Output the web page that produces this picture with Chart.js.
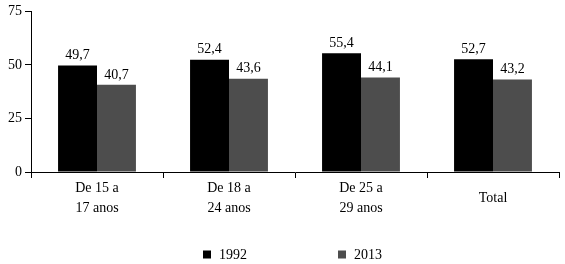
<!DOCTYPE html>
<html>
<head>
<meta charset="utf-8">
<script src="https://cdn.jsdelivr.net/npm/chart.js@4/dist/chart.umd.min.js"></script>
<style>
html,body{margin:0;padding:0;background:#fff;}
#wrap{width:565px;height:264px;position:relative;}
</style>
</head>
<body>
<div id="wrap"><canvas id="c" width="565" height="264"></canvas></div>
<script>
const categories = [["De 15 a","17 anos"],["De 18 a","24 anos"],["De 25 a","29 anos"],"Total"];
const series1992 = [49.7, 52.4, 55.4, 52.7];
const series2013 = [40.7, 43.6, 44.1, 43.2];
const seriesNames = ["1992", "2013"];
const yTicks = [0, 25, 50, 75];

const FONT = "'Liberation Serif', 'DejaVu Serif', serif";

const valueLabels = {
  id: 'valueLabels',
  afterDatasetsDraw(chart) {
    const ctx = chart.ctx;
    ctx.save();
    ctx.font = "14px " + FONT;
    ctx.fillStyle = "#000";
    ctx.textAlign = "center";
    ctx.textBaseline = "bottom";
    chart.data.datasets.forEach((ds, di) => {
      const meta = chart.getDatasetMeta(di);
      meta.data.forEach((bar, i) => {
        ctx.fillText(ds.data[i].toFixed(1).replace('.', ','), bar.x, bar.y - 3);
      });
    });
    ctx.restore();
  }
};

const customLegend = {
  id: 'customLegend',
  afterDraw(chart) {
    const ctx = chart.ctx;
    ctx.save();
    ctx.font = "14px " + FONT;
    ctx.textBaseline = "middle";
    ctx.textAlign = "left";
    const ds = chart.data.datasets;
    const box = 8, gapText = 8, gapItem = 91;
    const widths = ds.map(d => box + gapText + ctx.measureText(d.label).width);
    const total = widths.reduce((a, b) => a + b, 0) + gapItem * (ds.length - 1);
    const ca = chart.chartArea;
    let x = (ca.left + ca.right) / 2 - 2.5 - total / 2;
    const yc = 254.5;
    ds.forEach((d, i) => {
      ctx.fillStyle = d.backgroundColor;
      ctx.fillRect(x, yc - box / 2, box, box);
      ctx.fillStyle = "#000";
      ctx.fillText(d.label, x + box + gapText, yc + 1);
      x += widths[i] + gapItem;
    });
    ctx.restore();
  }
};

new Chart(document.getElementById('c'), {
  type: 'bar',
  data: {
    labels: categories,
    datasets: [
      {label: seriesNames[0], data: series1992, backgroundColor: '#000000', categoryPercentage: 0.59, barPercentage: 1},
      {label: seriesNames[1], data: series2013, backgroundColor: '#4d4d4d', categoryPercentage: 0.59, barPercentage: 1}
    ]
  },
  options: {
    responsive: false,
    animation: false,
    devicePixelRatio: 1,
    layout: {padding: {top: 8, right: 6, left: 0, bottom: 42}},
    plugins: {
      tooltip: {enabled: false},
      legend: {display: false}
    },
    scales: {
      x: {
        grid: {display: true, drawOnChartArea: false, offset: true, tickLength: 6, color: '#000'},
        border: {display: true, color: '#000', width: 1},
        ticks: {font: {family: FONT, size: 14, lineHeight: 1.45}, color: '#000', maxRotation: 0, padding: 10, crossAlign: 'center'},
        afterFit(s) { s.height = 50; }
      },
      y: {
        min: 0, max: 75,
        afterBuildTicks(s) { s.ticks = yTicks.map(v => ({value: v})); },
        grid: {display: true, drawOnChartArea: false, tickLength: 6, color: '#000'},
        border: {display: true, color: '#000', width: 1},
        ticks: {font: {family: FONT, size: 14}, color: '#000', padding: 3},
        afterFit(s) { s.width = 31; }
      }
    }
  },
  plugins: [valueLabels, customLegend]
});
</script>
</body>
</html>
